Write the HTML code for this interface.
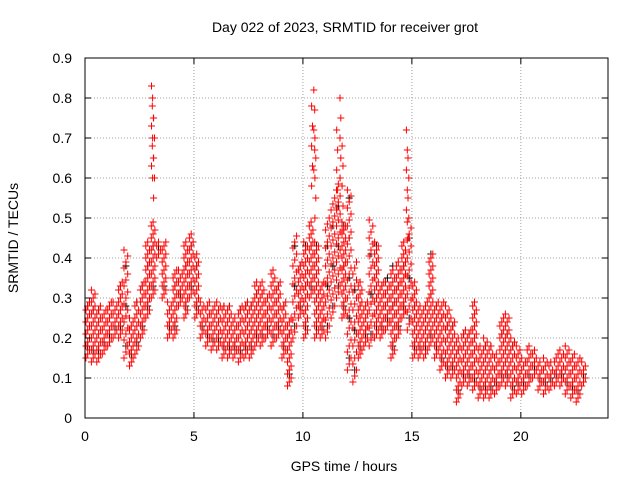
<!DOCTYPE html>
<html><head><meta charset="utf-8"><style>
body{margin:0;background:#fff}
text{font-family:"Liberation Sans",sans-serif;font-size:14px;fill:#000}
</style></head><body>
<svg id="c" width="640" height="480" xmlns="http://www.w3.org/2000/svg">
<text x="345" y="32" text-anchor="middle">Day 022 of 2023, SRMTID for receiver grot</text>
<text x="344" y="471" text-anchor="middle">GPS time / hours</text>
<text transform="translate(18,238) rotate(-90)" text-anchor="middle">SRMTID / TECUs</text>
<g id="grid"></g><g id="pts"></g>
<rect x="85" y="58" width="523" height="360" fill="none" stroke="#000"/>
<g id="ticks"></g>
</svg>
<script>
const xTicks=[0,5,10,15,20];
const yTicks=[0,0.1,0.2,0.3,0.4,0.5,0.6,0.7,0.8,0.9];
const binLow=[0.15,0.14,0.14,0.16,0.18,0.2,0.2,0.15,0.13,0.16,0.2,0.25,0.3,0.4,0.3,0.2,0.2,0.28,0.25,0.3,0.25,0.2,0.18,0.17,0.17,0.15,0.15,0.15,0.14,0.15,0.15,0.18,0.18,0.2,0.18,0.2,0.15,0.08,0.2,0.25,0.2,0.3,0.2,0.2,0.2,0.25,0.3,0.25,0.12,0.09,0.15,0.18,0.18,0.2,0.2,0.22,0.15,0.2,0.25,0.22,0.15,0.15,0.15,0.18,0.15,0.12,0.1,0.1,0.04,0.08,0.08,0.07,0.05,0.05,0.05,0.06,0.08,0.08,0.05,0.06,0.06,0.08,0.1,0.07,0.06,0.07,0.08,0.08,0.06,0.05,0.04,0.08];
const binHigh=[0.3,0.33,0.28,0.27,0.3,0.3,0.35,0.43,0.25,0.3,0.35,0.45,0.5,0.45,0.45,0.3,0.38,0.38,0.45,0.47,0.42,0.3,0.3,0.28,0.3,0.28,0.28,0.25,0.28,0.3,0.3,0.35,0.35,0.32,0.38,0.35,0.3,0.25,0.46,0.4,0.45,0.5,0.45,0.35,0.5,0.55,0.6,0.5,0.58,0.4,0.35,0.3,0.5,0.45,0.35,0.35,0.38,0.4,0.45,0.5,0.35,0.28,0.3,0.42,0.3,0.3,0.28,0.25,0.2,0.22,0.22,0.3,0.18,0.2,0.18,0.16,0.25,0.26,0.2,0.18,0.15,0.18,0.18,0.15,0.15,0.15,0.16,0.17,0.18,0.16,0.15,0.14];
const peakHours=[3.05,3.1,3.15,10.4,10.5,10.55,11.55,11.7,11.8,14.75,14.82];
const peakValues=[0.83,0.8,0.75,0.78,0.82,0.7,0.72,0.8,0.68,0.72,0.65];
const binWidth=0.25;
const X=h=>85+h*523/24, Y=v=>418-v*400;
const ns="http://www.w3.org/2000/svg";
const grid=document.getElementById('grid'),ticks=document.getElementById('ticks'),pts=document.getElementById('pts');
function mk(tag,attrs,parent){const e=document.createElementNS(ns,tag);for(const k in attrs)e.setAttribute(k,attrs[k]);parent.appendChild(e);return e;}
xTicks.forEach(t=>{
 const g=mk('line',{x1:X(t),x2:X(t),y1:58,y2:418,stroke:'#a0a0a0','stroke-dasharray':'1,2'},grid);
 
 
 mk('line',{x1:X(t),x2:X(t),y1:418,y2:412,stroke:'#000'},ticks);
 mk('line',{x1:X(t),x2:X(t),y1:58,y2:64,stroke:'#000'},ticks);
 const l=mk('text',{x:X(t),y:441,'text-anchor':'middle'},ticks);l.textContent=t;
 
 
});
yTicks.forEach(t=>{
 const g=mk('line',{x1:85,x2:608,y1:Y(t),y2:Y(t),stroke:'#a0a0a0','stroke-dasharray':'1,2'},grid);
 
 
 mk('line',{x1:85,x2:91,y1:Y(t),y2:Y(t),stroke:'#000'},ticks);
 mk('line',{x1:608,x2:602,y1:Y(t),y2:Y(t),stroke:'#000'},ticks);
 const l=mk('text',{x:72,y:Y(t)+5,'text-anchor':'end'},ticks);l.textContent=t===0?'0':t.toFixed(1);
 
 
});
let d='',db='';
function cross(h,v){const x=X(h),y=Y(v);return `M${(x-3.5).toFixed(1)} ${y.toFixed(1)}h7M${x.toFixed(1)} ${(y-3.5).toFixed(1)}v7`;}
binLow.forEach((lo,i)=>{
 const hi=binHigh[i],h0=i*binWidth;
 for(let c=0;c<3;c++){
  const h=h0+binWidth*(c+0.5)/3;
  const step=(hi-lo)>0.25?0.045:0.03;
  for(let v=lo+(c%3)*step/3;v<=hi;v+=step) d+=cross(h,v);
 }
 for(let v=lo+0.03;v<=hi;v+=0.1) db+=cross(h0+binWidth*0.5,v);
});
peakValues.forEach((v,i)=>{
 for(let k=0;k<5;k++) d+=cross(peakHours[i]+(k%2)*0.04,v-k*0.05);
});
const pb=mk('path',{d:db,stroke:'#000','stroke-width':1,fill:'none'},pts);


const pr=mk('path',{d:d,stroke:'#ff0000','stroke-width':1,fill:'none'},pts);


</script>
</body></html>
